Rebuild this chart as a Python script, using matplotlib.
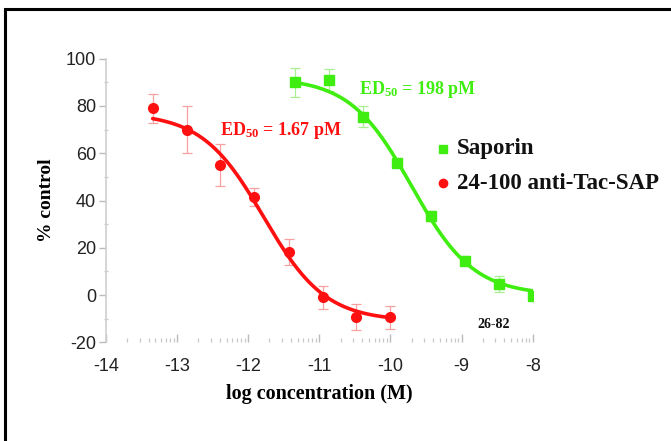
import numpy as np
import matplotlib
matplotlib.use("Agg")
import matplotlib.pyplot as plt
from matplotlib.patches import Rectangle

plt.rcParams["mathtext.fontset"] = "custom"
plt.rcParams["mathtext.rm"] = "Liberation Serif:bold"
plt.rcParams["mathtext.bf"] = "Liberation Serif:bold"
plt.rcParams["mathtext.it"] = "Liberation Serif:bold"

# ---- data ----
red_label = "24-100 anti-Tac-SAP"
red_x = [-13.34, -12.86, -12.39, -11.91, -11.43, -10.95, -10.48, -10.0]
red_y = [79.0, 70.0, 55.0, 41.5, 18.0, -1.0, -9.3, -9.5]
red_err = [6.0, 10.0, 9.0, 4.0, 5.5, 5.0, 5.5, 5.0]
red_fit = dict(top=77.0, bottom=-11.0, logec50=-11.78, hill=1.0)

green_label = "Saporin"
green_x = [-11.34, -10.86, -10.39, -9.91, -9.43, -8.95, -8.48, -8.0]
green_y = [90.0, 91.0, 75.5, 56.0, 33.5, 14.5, 4.6, -0.3]
green_err = [6.0, 4.7, 4.5, 2.0, 2.0, 2.0, 3.5, 1.0]
green_fit = dict(top=92.0, bottom=0.0, logec50=-9.70, hill=1.0)

x_ticks = [-14, -13, -12, -11, -10, -9, -8]
y_ticks = [-20, 0, 20, 40, 60, 80, 100]

RED = "#ff1010"
GREEN = "#3fee10"


def logistic(x, top, bottom, logec50, hill):
    return bottom + (top - bottom) / (1 + 10 ** ((x - logec50) * hill))


fig = plt.figure(figsize=(6.71, 4.41), dpi=100)
ax = fig.add_axes([105.7 / 671, 1 - 342.3 / 441, (532.7 - 105.7) / 671, (342.3 - 58.7) / 441])

# frame around the figure
fig.patches.append(Rectangle((5 / 671, -0.1), 1.2, 1 - 8.5 / 441 + 0.1, transform=fig.transFigure,
                             fill=False, edgecolor="black", linewidth=2.2))

# fitted curves
for xs, fit, col in [(red_x, red_fit, RED), (green_x, green_fit, GREEN)]:
    xx = np.linspace(min(xs), max(xs), 200)
    ax.plot(xx, logistic(xx, **fit), color=col, lw=2.6, solid_capstyle="round", zorder=3)

# error bars
ax.errorbar(red_x, red_y, yerr=red_err, fmt="none", ecolor="#f6a0a0", elinewidth=0.9,
            capsize=3.5, capthick=0.9, zorder=2)
ax.errorbar(green_x, green_y, yerr=green_err, fmt="none", ecolor="#a8f090", elinewidth=0.9,
            capsize=3.5, capthick=0.9, zorder=2)

# points
ax.plot(red_x, red_y, "o", color=RED, ms=7, mec=RED, zorder=4)
ax.plot(green_x, green_y, "s", color=GREEN, ms=6.5, mec=GREEN, zorder=4)

ax.set_xlim(-14, -8)
ax.set_ylim(-20, 100)
ax.set_xticks(x_ticks)
ax.set_xticklabels([str(t) for t in x_ticks])
ax.set_yticks(y_ticks)
ax.set_yticklabels([str(t) for t in y_ticks])
minor_x = [d + np.log10(m) for d in range(-14, -8) for m in range(2, 10)]
ax.set_xticks(minor_x, minor=True)
ax.set_yticks([-10, 10, 30, 50, 70, 90], minor=True)

for s in ["top", "right"]:
    ax.spines[s].set_visible(False)
ax.spines["left"].set_color("#cfcfcf")
ax.spines["left"].set_linewidth(1.2)
ax.spines["bottom"].set_visible(False)

ax.tick_params(axis="y", which="major", direction="out", length=5, color="#bbbbbb", width=1,
               labelsize=13, pad=2)
ax.tick_params(axis="y", which="minor", direction="inout", length=3, color="#cccccc", width=1)
ax.tick_params(axis="x", which="major", direction="in", length=6, color="#bbbbbb", width=1,
               labelsize=13, pad=11)
ax.tick_params(axis="x", which="minor", direction="in", length=3, color="#c8c8c8", width=0.9)
for lab in ax.get_xticklabels() + ax.get_yticklabels():
    lab.set_fontfamily("Liberation Sans")
    lab.set_color("#222222")

serif = "Liberation Serif"
ax.set_xlabel("log concentration (M)", fontfamily=serif, fontweight="bold", fontsize=14.5,
              labelpad=7)
ax.set_ylabel("% control", fontfamily=serif, fontweight="bold", fontsize=14, labelpad=8)

# annotations
ax.text(-12.39, 69.5, r"ED$_{50}$ = 1.67 pM", color=RED, fontfamily=serif,
        fontweight="bold", fontsize=13, va="center", ha="left")
ax.text(-10.44, 87.0, r"ED$_{50}$ = 198 pM", color=GREEN, fontfamily=serif,
        fontweight="bold", fontsize=13, va="center", ha="left")
ax.text(-8.78, -12.5, "26-82", color="#111111", fontfamily=serif, fontweight="bold",
        fontsize=10, va="center", ha="left")

# legend
leg_x = -9.06
ax.plot([leg_x - 0.2], [61.8], "s", color=GREEN, ms=6, clip_on=False)
ax.text(leg_x, 61.8, green_label, fontfamily=serif, fontweight="bold", fontsize=16.5,
        va="center", ha="left", color="#111111")
ax.plot([leg_x - 0.2], [47.3], "o", color=RED, ms=6, clip_on=False)
ax.text(leg_x, 47.3, red_label, fontfamily=serif, fontweight="bold", fontsize=16.5,
        va="center", ha="left", color="#111111", clip_on=False)

fig.savefig("out.png", dpi=100)
